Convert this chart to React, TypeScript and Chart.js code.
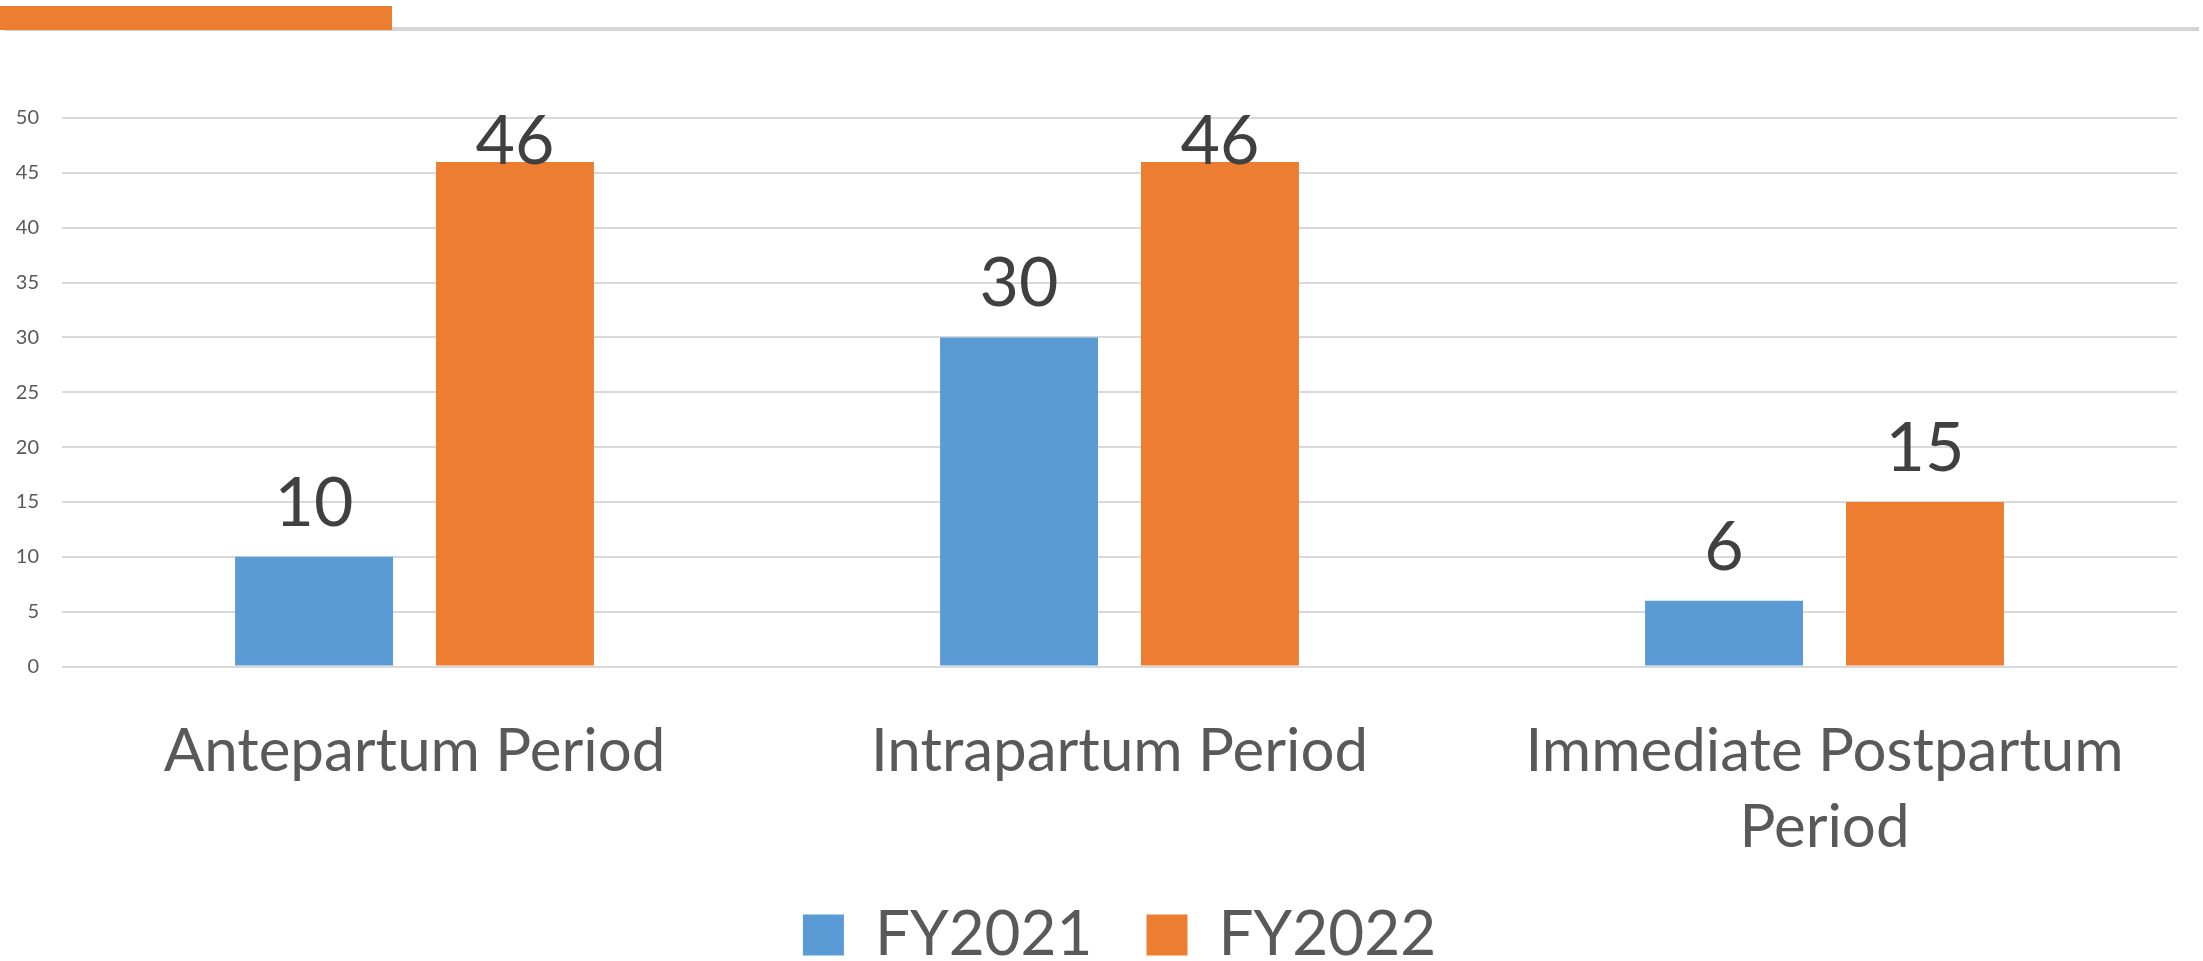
import React, { useEffect, useRef } from "react";
import { Chart, registerables } from "chart.js";

Chart.register(...registerables);

// ---- data ----
const categories: (string | string[])[] = [
  "Antepartum Period",
  "Intrapartum Period",
  ["Immediate Postpartum", "Period"],
];
const seriesNames = ["FY2021", "FY2022"];
const fy2021 = [10, 30, 6];
const fy2022 = [46, 46, 15];
const yMin = 0;
const yMax = 50;
const yStep = 5;

// ---- style ----
const W = 2203;
const VIEW_H = 961;
const CANVAS_H = 976;
const FONT = "Lato, 'Open Sans', sans-serif";
const BLUE = "#5B9BD5";
const ORANGE = "#ED7D31";
const AXIS_TEXT = "#595959";
const LABEL_TEXT = "#404040";
const GRID = "#D9D9D9";

const LABEL_SIZE = 68;
const LEGEND_SIZE = 62;
const LEGEND_PAD = 54;
const CHART_TOP = 118;
const CHART_BOTTOM = 666.5;
const LEGEND_H = Math.max(LEGEND_SIZE, 41) + LEGEND_PAD + 10;

const decorPlugin = {
  id: "decor",
  beforeDraw(chart: any) {
    const ctx = chart.ctx as CanvasRenderingContext2D;
    ctx.save();
    ctx.fillStyle = "#FFFFFF";
    ctx.fillRect(0, 0, chart.width, chart.height);
    ctx.fillStyle = "#D4D4D4";
    ctx.fillRect(4, 27, 2195, 4);
    ctx.fillStyle = ORANGE;
    ctx.fillRect(0, 6, 392, 24);
    ctx.restore();
  },
};

const valueLabelPlugin = {
  id: "valueLabels",
  afterDatasetsDraw(chart: any) {
    const ctx = chart.ctx as CanvasRenderingContext2D;
    const area = chart.chartArea;
    const capH = LABEL_SIZE * 0.7165;
    ctx.save();
    ctx.font = `${LABEL_SIZE}px ${FONT}`;
    ctx.fillStyle = LABEL_TEXT;
    ctx.textAlign = "center";
    ctx.textBaseline = "alphabetic";
    chart.data.datasets.forEach((ds: any, di: number) => {
      const meta = chart.getDatasetMeta(di);
      meta.data.forEach((bar: any, i: number) => {
        let base = bar.y - 31;
        const minBase = area.top - 3 + capH;
        if (base < minBase) base = minBase;
        ctx.fillText(String(ds.data[i]), bar.x, base);
      });
    });
    ctx.restore();
  },
};

export default function App() {
  const ref = useRef<HTMLCanvasElement | null>(null);

  useEffect(() => {
    if (!ref.current) return;
    const chart = new Chart(ref.current, {
      type: "bar",
      data: {
        labels: categories as any,
        datasets: [
          {
            label: seriesNames[0],
            data: fy2021,
            backgroundColor: BLUE,
            borderWidth: 0,
            categoryPercentage: 0.57,
            barPercentage: 0.786,
          },
          {
            label: seriesNames[1],
            data: fy2022,
            backgroundColor: ORANGE,
            borderWidth: 0,
            categoryPercentage: 0.57,
            barPercentage: 0.786,
          },
        ],
      },
      options: {
        animation: false,
        responsive: false,
        maintainAspectRatio: false,
        devicePixelRatio: 1,
        layout: {
          padding: { top: CHART_TOP, left: 0, right: W - 2177, bottom: 0 },
        },
        plugins: {
          tooltip: { enabled: false },
          title: { display: false },
          legend: {
            display: true,
            position: "bottom",
            fullSize: false,
            labels: {
              boxWidth: 41,
              boxHeight: 41,
              padding: LEGEND_PAD,
              color: AXIS_TEXT,
              font: { family: FONT, size: LEGEND_SIZE },
            },
          },
        },
        scales: {
          x: {
            grid: { display: false, drawTicks: false },
            border: { display: false },
            ticks: {
              color: AXIS_TEXT,
              font: { family: FONT, size: 60, lineHeight: 1.267 },
              padding: 47,
              maxRotation: 0,
              autoSkip: false,
            },
            afterFit(scale: any) {
              scale.height = CANVAS_H - LEGEND_H - CHART_BOTTOM;
            },
          },
          y: {
            min: yMin,
            max: yMax,
            grid: {
              color: GRID,
              lineWidth: 2,
              drawTicks: false,
              tickLength: 0,
            },
            border: { display: false },
            ticks: {
              stepSize: yStep,
              color: AXIS_TEXT,
              font: { family: FONT, size: 20 },
              padding: 23,
            },
            afterFit(scale: any) {
              scale.width = 62;
            },
          },
        },
      },
      plugins: [decorPlugin, valueLabelPlugin],
    });
    return () => chart.destroy();
  }, []);

  return (
    <div
      style={{
        position: "fixed",
        left: 0,
        top: 0,
        width: W,
        height: VIEW_H,
        overflow: "hidden",
        background: "#FFFFFF",
      }}
    >
      <canvas
        ref={ref}
        width={W}
        height={CANVAS_H}
        style={{ width: W, height: CANVAS_H, display: "block" }}
      />
    </div>
  );
}
